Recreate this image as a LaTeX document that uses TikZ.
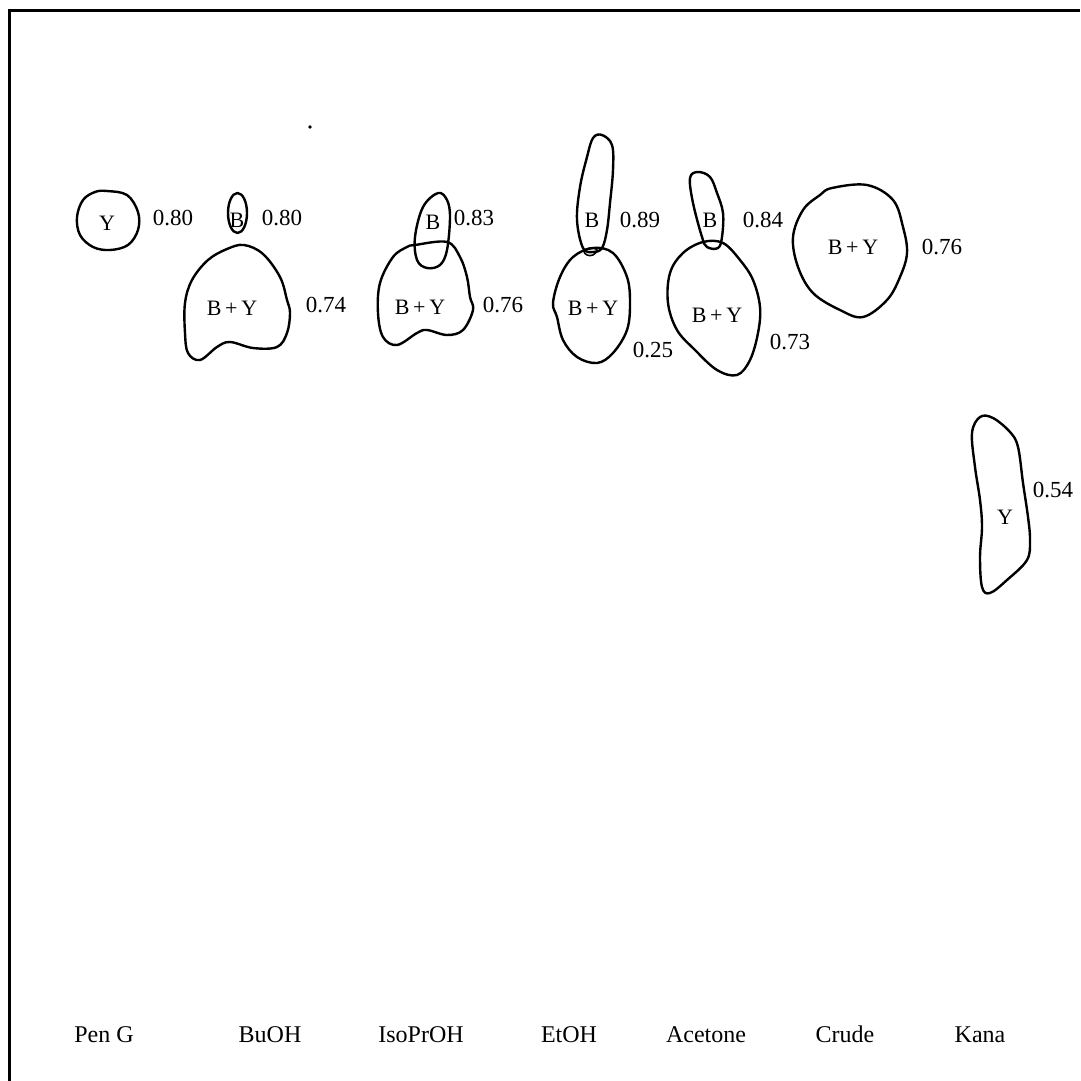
\documentclass[tikz,border=0pt]{standalone}
\usepackage{fontspec}
\setmainfont{Liberation Serif}
\begin{document}
\begin{tikzpicture}[x=1pt,y=-1pt,
  spot/.style={draw=black,line width=2.4pt,line join=round},
  frame/.style={draw=black,line width=3pt},
  rf/.style={font=\fontsize{23}{27}\selectfont,inner sep=0pt,anchor=center},
  inlab/.style={font=\fontsize{22}{26}\selectfont,inner sep=0pt,anchor=center},
  lane/.style={font=\fontsize{24}{28}\selectfont,inner sep=0pt,anchor=base}]
\useasboundingbox (0,0) rectangle (1080,1081);
% frame
\draw[frame] (9,1081) -- (9,11) -- (1080,11);
\fill (310,127) circle (1.8);

% Pen G
\draw[spot] plot[smooth cycle,tension=0.6] coordinates {(107,191) (127,195) (138,212) (138,230) (128,245) (110,250) (93,247) (80,235) (77,217) (83,200) (95,192)};
\node[inlab] (y1) at (107,223) {Y};
\node[rf] (r1) at (173,218) {0.80};

% BuOH
\draw[spot] (237.5,213) ellipse [x radius=9.5, y radius=20];
\node[inlab] (b2) at (237,220) {B};
\node[rf] (r2a) at (282,218) {0.80};
\draw[spot] plot[smooth cycle,tension=0.6] coordinates {(244,245) (263,254) (280,277) (287,300) (290,313) (287,333) (277,347) (253,348) (230,342) (217,347) (200,360) (188,353) (185,333) (185,303) (192,280) (208,260) (227,249)};
\node[inlab] (by2) at (232,308) {B\,+\,Y};
\node[rf] (r2b) at (326,305) {0.74};

% IsoPrOH
\draw[spot] plot[smooth cycle,tension=0.6] coordinates {(438,193) (447,200) (450,217) (447,250) (440,265) (427,268) (417,260) (415,237) (423,207)};
\node[inlab] (b3) at (433,222) {B};
\node[rf] (r3a) at (474,218) {0.83};
\draw[spot] plot[smooth cycle,tension=0.6] coordinates {(415,245) (447,242) (460,257) (467,277) (470,297) (473,310) (463,330) (447,335) (427,330) (417,333) (397,345) (383,337) (378,313) (380,283) (393,257) (407,247)};
\node[inlab] (by3) at (420,307) {B\,+\,Y};
\node[rf] (r3b) at (503,305) {0.76};

% EtOH
\draw[spot] plot[smooth cycle,tension=0.6] coordinates {(602,135) (612,145) (613,170) (610,203) (607,230) (602,248) (593,252) (583,248) (577,220) (580,187) (587,157) (593,138)};
\node[inlab] (b4) at (592,220) {B};
\node[rf] (r4a) at (640,220) {0.89};
\draw[spot] plot[smooth cycle,tension=0.6] coordinates {(593,248) (613,253) (627,277) (630,303) (627,330) (613,353) (597,363) (577,357) (563,340) (557,317) (553,303) (560,277) (573,257)};
\draw[spot,line width=1.6pt] plot[smooth cycle,tension=0.7] coordinates {(584,251) (590,248) (597,250) (593,255) (587,255)};
\node[inlab] (by4) at (593,308) {B\,+\,Y};
\node[rf] (r4b) at (653,350) {0.25};

% Acetone
\draw[spot] plot[smooth cycle,tension=0.6] coordinates {(698,172) (710,177) (717,193) (723,213) (722,237) (718,248) (707,247) (702,237) (693,203) (690,178)};
\node[inlab] (b5) at (710,220) {B};
\node[rf] (r5a) at (763,220) {0.84};
\draw[spot] plot[smooth cycle,tension=0.6] coordinates {(703,242) (723,243) (740,260) (753,280) (760,307) (758,333) (750,360) (737,375) (717,370) (695,350) (677,330) (668,303) (670,273) (683,253)};
\node[inlab] (by5) at (717,315) {B\,+\,Y};
\node[rf] (r5b) at (790,342) {0.73};

% Crude
\draw[spot] plot[smooth cycle,tension=0.6] coordinates {(832,188) (867,185) (893,200) (903,227) (907,253) (900,277) (887,300) (863,317) (840,310) (813,293) (798,267) (793,237) (803,210) (820,195)};
\node[inlab] (by6) at (853,247) {B\,+\,Y};
\node[rf] (r6) at (942,247) {0.76};

% Kana
\draw[spot] plot[smooth cycle,tension=0.6] coordinates {(980,417) (993,418) (1010,432) (1018,447) (1023,483) (1028,517) (1030,540) (1027,560) (1007,580) (990,593) (982,587) (980,557) (982,527) (980,500) (975,467) (972,433)};
\node[inlab] (y7) at (1005,517) {Y};
\node[rf] (r7) at (1053,490) {0.54};

% lane labels (baseline)
\node[lane] (l1) at (104,1042) {Pen G};
\node[lane] (l2) at (270,1042) {BuOH};
\node[lane] (l3) at (421,1042) {IsoPrOH};
\node[lane] (l4) at (569,1042) {EtOH};
\node[lane] (l5) at (706,1042) {Acetone};
\node[lane] (l6) at (845,1042) {Crude};
\node[lane] (l7) at (980,1042) {Kana};
\end{tikzpicture}
\end{document}
